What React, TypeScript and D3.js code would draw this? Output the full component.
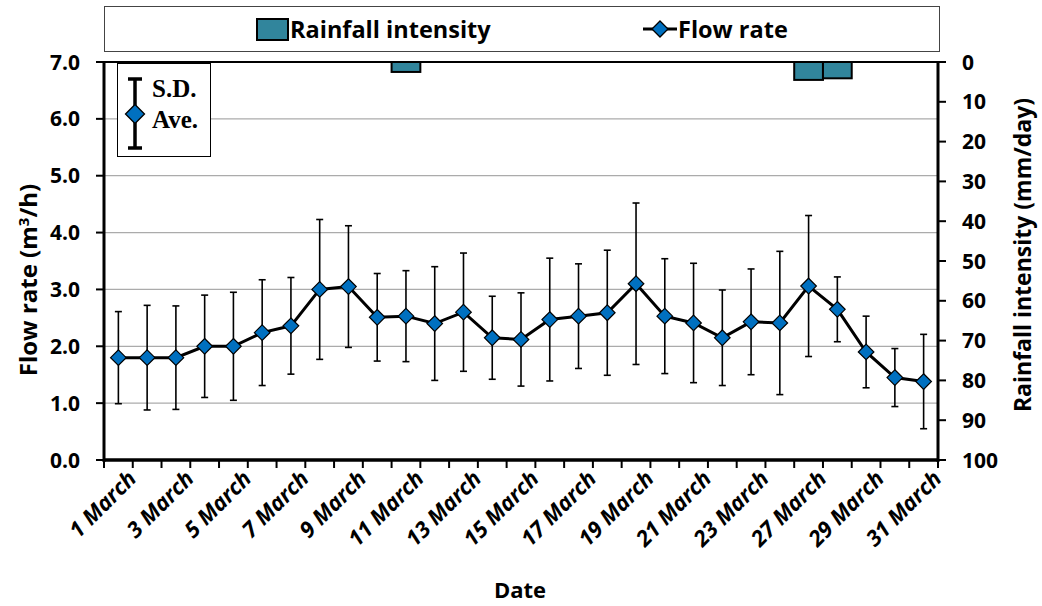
import React from "react";
import * as d3 from "d3";

const dates = [
  "1 March", "2 March", "3 March", "4 March", "5 March", "6 March", "7 March", "8 March",
  "9 March", "10 March", "11 March", "12 March", "13 March", "14 March", "15 March", "16 March",
  "17 March", "18 March", "19 March", "20 March", "21 March", "22 March", "23 March", "24 March",
  "27 March", "28 March", "29 March", "30 March", "31 March",
];
const flowAvg = [1.80, 1.80, 1.80, 2.00, 2.00, 2.24, 2.36, 3.00, 3.05, 2.51, 2.53, 2.40, 2.60, 2.15, 2.12, 2.47, 2.53, 2.59, 3.10, 2.53, 2.41, 2.15, 2.43, 2.41, 3.06, 2.65, 1.90, 1.45, 1.38];
const flowSD = [0.81, 0.92, 0.91, 0.90, 0.95, 0.93, 0.85, 1.23, 1.07, 0.77, 0.80, 1.00, 1.04, 0.73, 0.82, 1.08, 0.92, 1.10, 1.42, 1.01, 1.05, 0.84, 0.93, 1.26, 1.24, 0.57, 0.63, 0.51, 0.83];
const rainfall = [0, 0, 0, 0, 0, 0, 0, 0, 0, 0, 2.5, 0, 0, 0, 0, 0, 0, 0, 0, 0, 0, 0, 0, 0, 4.5, 4.1, 0, 0, 0];
const leftTicks = [0, 1, 2, 3, 4, 5, 6, 7];
const rightTicks = [0, 10, 20, 30, 40, 50, 60, 70, 80, 90, 100];
const tickLabelDates = dates.filter((_, i) => i % 2 === 0);

const W = 1042, H = 606;
const L = 104, R = 938, T = 62, B = 460;
const FONT = "'Open Sans', Lato, sans-serif";
const SERIF = "'Liberation Serif', 'Times New Roman', serif";
const BLUE = "#0070C0";
const TEAL = "#31859C";

export default function App() {
  const x = d3.scaleBand<string>().domain(dates).range([L, R]).padding(0);
  const yL = d3.scaleLinear().domain([0, 7]).range([B, T]);
  const yR = d3.scaleLinear().domain([0, 100]).range([T, B]);
  const bw = x.bandwidth();
  const cx = (d: string) => (x(d) as number) + bw / 2;
  const pts = dates.map((d, i) => ({ d, v: flowAvg[i], sd: flowSD[i] }));
  const line = d3.line<{ d: string; v: number }>().x((p) => cx(p.d)).y((p) => yL(p.v));
  const diamond = (px: number, py: number, r: number) =>
    `M${px},${py - r}L${px + r},${py}L${px},${py + r}L${px - r},${py}Z`;
  const boundaries = d3.range(dates.length + 1).map((i) => L + i * bw);

  return (
    <div style={{ position: "absolute", left: 0, top: 0 }}>
      <svg width={W} height={H} style={{ display: "block", background: "#fff" }}>
        {/* legend box */}
        <rect x={104.5} y={6.5} width={835} height={45} fill="#fff" stroke="#444" strokeWidth={1} />
        <rect x={257} y={19} width={31} height={21} fill={TEAL} stroke="#000" strokeWidth={2} />
        <text x={290} y={38} fontFamily={FONT} fontWeight="bold" fontSize={23.5} fill="#000">Rainfall intensity</text>
        <line x1={643} x2={677} y1={29} y2={29} stroke="#000" strokeWidth={3} />
        <path d={diamond(660, 29, 8)} fill={BLUE} stroke="#000" strokeWidth={1.3} />
        <text x={678} y={38} fontFamily={FONT} fontWeight="bold" fontSize={23.5} fill="#000">Flow rate</text>

        {/* gridlines */}
        {leftTicks.filter((t) => t > 0 && t < 7).map((t) => (
          <line key={t} x1={L} x2={R} y1={yL(t)} y2={yL(t)} stroke="#ababab" strokeWidth={1.3} />
        ))}

        {/* rainfall bars hanging from top */}
        {dates.map((d, i) =>
          rainfall[i] > 0 ? (
            <rect key={d} x={x(d)} y={yR(0)} width={bw} height={yR(rainfall[i]) - yR(0)} fill={TEAL} stroke="#000" strokeWidth={2} />
          ) : null
        )}

        {/* error bars */}
        {pts.map((p) => (
          <g key={p.d} stroke="#000" strokeWidth={1.6}>
            <line x1={cx(p.d)} x2={cx(p.d)} y1={yL(p.v + p.sd)} y2={yL(p.v - p.sd)} />
            <line x1={cx(p.d) - 3.5} x2={cx(p.d) + 3.5} y1={yL(p.v + p.sd)} y2={yL(p.v + p.sd)} />
            <line x1={cx(p.d) - 3.5} x2={cx(p.d) + 3.5} y1={yL(p.v - p.sd)} y2={yL(p.v - p.sd)} />
          </g>
        ))}

        {/* flow line */}
        <path d={line(pts) as string} fill="none" stroke="#000" strokeWidth={3} />
        {pts.map((p) => (
          <path key={p.d} d={diamond(cx(p.d), yL(p.v), 7.8)} fill={BLUE} stroke="#000" strokeWidth={1.2} />
        ))}

        {/* plot frame and axes */}
        <line x1={L} x2={R} y1={T} y2={T} stroke="#000" strokeWidth={2} />
        <line x1={L} x2={L} y1={T - 1} y2={B + 2} stroke="#000" strokeWidth={3} />
        <line x1={R} x2={R} y1={T - 1} y2={B + 2} stroke="#000" strokeWidth={3} />
        <line x1={L - 1} x2={R + 1} y1={B} y2={B} stroke="#000" strokeWidth={3.5} />

        {/* left axis */}
        {leftTicks.map((t) => (
          <g key={t}>
            <line x1={L - 8} x2={L} y1={yL(t)} y2={yL(t)} stroke="#000" strokeWidth={2} />
            <text x={80} y={yL(t)} dy="0.36em" textAnchor="end" fontFamily={FONT} fontWeight="bold" fontSize={21} fill="#000">
              {d3.format(".1f")(t)}
            </text>
          </g>
        ))}

        {/* right axis */}
        {rightTicks.map((t) => (
          <g key={t}>
            <line x1={R} x2={R + 8} y1={yR(t)} y2={yR(t)} stroke="#000" strokeWidth={2} />
            <text x={962} y={yR(t)} dy="0.36em" textAnchor="start" fontFamily={FONT} fontWeight="bold" fontSize={21} fill="#000">
              {t}
            </text>
          </g>
        ))}

        {/* bottom ticks */}
        {boundaries.map((bx, i) => (
          <line key={i} x1={bx} x2={bx} y1={B} y2={B + 8} stroke="#000" strokeWidth={2} />
        ))}
        {tickLabelDates.map((d) => (
          <text key={d} transform={`translate(${cx(d) + 8},${B + 9}) rotate(-45)`} textAnchor="end" dy="0.72em"
            fontFamily={FONT} fontWeight="bold" fontStyle="italic" fontSize={22} fill="#000">
            {d}
          </text>
        ))}

        {/* inset legend */}
        <rect x={117.5} y={63.5} width={93} height={93} fill="#fff" stroke="#000" strokeWidth={1} />
        <g stroke="#000" strokeWidth={3.5}>
          <line x1={135} x2={135} y1={79} y2={148} />
          <line x1={128} x2={142} y1={79} y2={79} />
          <line x1={128} x2={142} y1={148} y2={148} />
        </g>
        <path d={diamond(135, 114, 9.5)} fill={BLUE} stroke="#000" strokeWidth={1.3} />
        <text x={152} y={97} fontFamily={SERIF} fontWeight="bold" fontSize={25} fill="#000">S.D.</text>
        <text x={152} y={128} fontFamily={SERIF} fontWeight="bold" fontSize={25} fill="#000">Ave.</text>

        {/* axis titles */}
        <text transform="translate(37,280) rotate(-90)" textAnchor="middle" fontFamily={FONT} fontWeight="bold" fontSize={24} fill="#000">
          Flow rate (m<tspan dy="-8" fontSize={15}>3</tspan><tspan dy="8">/h)</tspan>
        </text>
        <text transform="translate(1031,255) rotate(-90)" textAnchor="middle" fontFamily={FONT} fontWeight="bold" fontSize={23} fill="#000">
          Rainfall intensity (mm/day)
        </text>
        <text x={520} y={598} textAnchor="middle" fontFamily={FONT} fontWeight="bold" fontSize={22} fill="#000">Date</text>
      </svg>
    </div>
  );
}
